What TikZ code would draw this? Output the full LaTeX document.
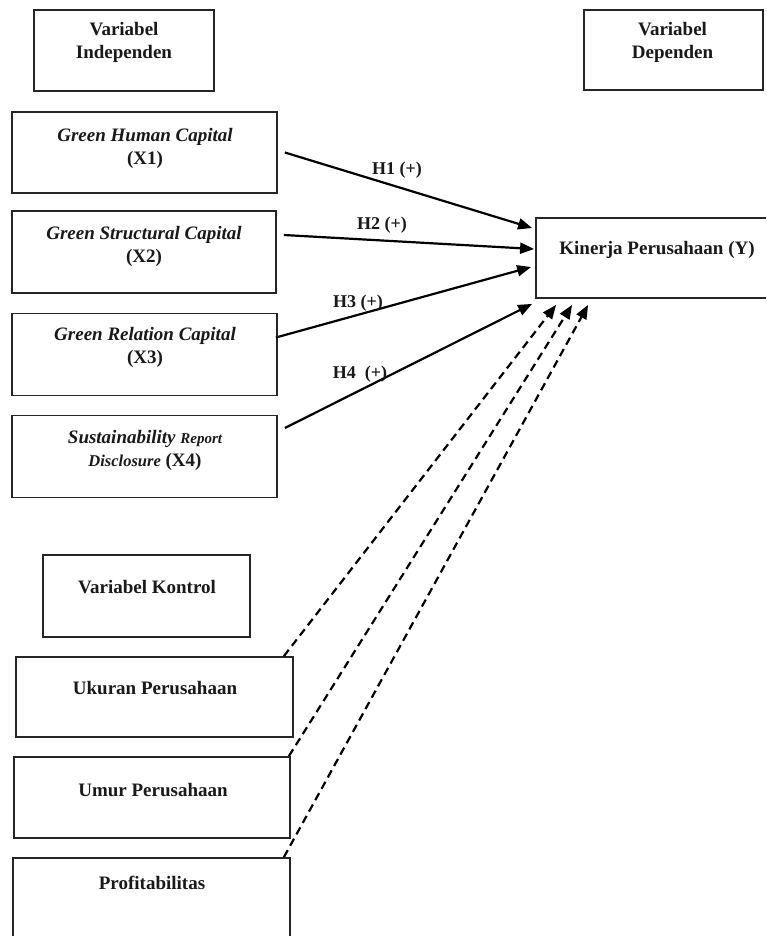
\documentclass[tikz,border=0pt]{standalone}
\usepackage{fontspec}
\setmainfont{Liberation Serif}
\usetikzlibrary{arrows.meta}
\tikzset{
  box/.style={draw=black!85, line width=1.8pt, rectangle, inner sep=0pt, fill=none},
  txt/.style={align=center, inner sep=0pt, font=\fontsize{19}{23}\selectfont\bfseries, text=black!90},
  hlab/.style={inner sep=0pt, font=\fontsize{18}{21}\selectfont\bfseries, text=black!90},
  hyp/.style={line width=2.2pt, -{Triangle[length=14pt,width=11pt]}},
  ctrl/.style={line width=2.2pt, dash pattern=on 8pt off 5pt, -{Triangle[length=14pt,width=11pt]}}
}
\begin{document}
\begin{tikzpicture}[x=1pt,y=-1pt]
\useasboundingbox (0,0) rectangle (766,936);
\clip (0,0) rectangle (766,936);
\fill[white] (0,0) rectangle (766,936);
% boxes
\node[box, minimum width=180pt, minimum height=81pt] (vi) at (124,50.5) {};
\node[box, minimum width=179pt, minimum height=80pt] (vd) at (673.5,50) {};
\node[box, minimum width=265pt, minimum height=81pt] (x1) at (144.5,152.5) {};
\node[box, minimum width=264pt, minimum height=82pt] (x2) at (144,252) {};
\node[box, minimum width=265pt, minimum height=82pt] (x3) at (144.5,354.5) {};
\node[box, minimum width=265pt, minimum height=82pt] (x4) at (144.5,456.5) {};
\node[box, minimum width=236pt, minimum height=80pt] (kin) at (654,258) {};
\node[box, minimum width=207pt, minimum height=82pt] (vk) at (146.5,596) {};
\node[box, minimum width=277pt, minimum height=80pt] (uk) at (154.5,697) {};
\node[box, minimum width=276pt, minimum height=81pt] (um) at (152,797.5) {};
\node[box, minimum width=277pt, minimum height=110pt] (pr) at (151.5,913) {};
% texts
\node[txt] (vit) at (124,42.5) {Variabel\\Independen};
\node[txt] (vdt) at (672.5,42.5) {Variabel\\Dependen};
\node[txt] (x1t) at (145,148) {\itshape Green Human Capital\\(X1)};
\node[txt] (x2t) at (144,246) {\itshape Green Structural Capital\\(X2)};
\node[txt] (x3t) at (145,347) {\itshape Green Relation Capital\\(X3)};
\node[txt] (x4t) at (145,450) {{\itshape Sustainability} {\fontsize{15}{18}\selectfont\itshape Report}\\{\fontsize{16.5}{18}\selectfont\itshape Disclosure} (X4)};
\node[txt] (kint) at (657,250) {Kinerja Perusahaan (Y)};
\node[txt] (vkt) at (147,587) {Variabel Kontrol};
\node[txt] (ukt) at (155,688) {Ukuran Perusahaan};
\node[txt] (umt) at (153,790) {Umur Perusahaan};
\node[txt] (prt) at (152,883) {Profitabilitas};
% hypothesis arrows
\draw[hyp] ([xshift=7pt]x1.east) -- ([xshift=-3pt,yshift=30pt]kin.west);
\draw[hyp] ([xshift=7pt,yshift=17pt]x2.east) -- ([xshift=-1pt,yshift=9pt]kin.west);
\draw[hyp] ([xshift=-2pt,yshift=17pt]x3.east) -- ([xshift=-4pt,yshift=-9pt]kin.west);
\draw[hyp] ([xshift=7pt,yshift=28.5pt]x4.east) -- ([xshift=-3pt,yshift=-5pt]kin.south west);
% labels
\node[hlab] (h1) at (397,170) {H1 (+)};
\node[hlab] (h2) at (382,225) {H2 (+)};
\node[hlab] (h3) at (358,303) {H3 (+)};
\node[hlab] (h4) at (360,374) {H4\ \ (+)};
% control arrows
\draw[ctrl] ([xshift=-10pt]uk.north east) -- ([xshift=21pt,yshift=-6pt]kin.south west);
\draw[ctrl] ([xshift=-2pt]um.north east) -- ([xshift=37pt,yshift=-6pt]kin.south west);
\draw[ctrl] ([xshift=-7pt]pr.north east) -- ([xshift=53pt,yshift=-6pt]kin.south west);
\end{tikzpicture}
\end{document}
